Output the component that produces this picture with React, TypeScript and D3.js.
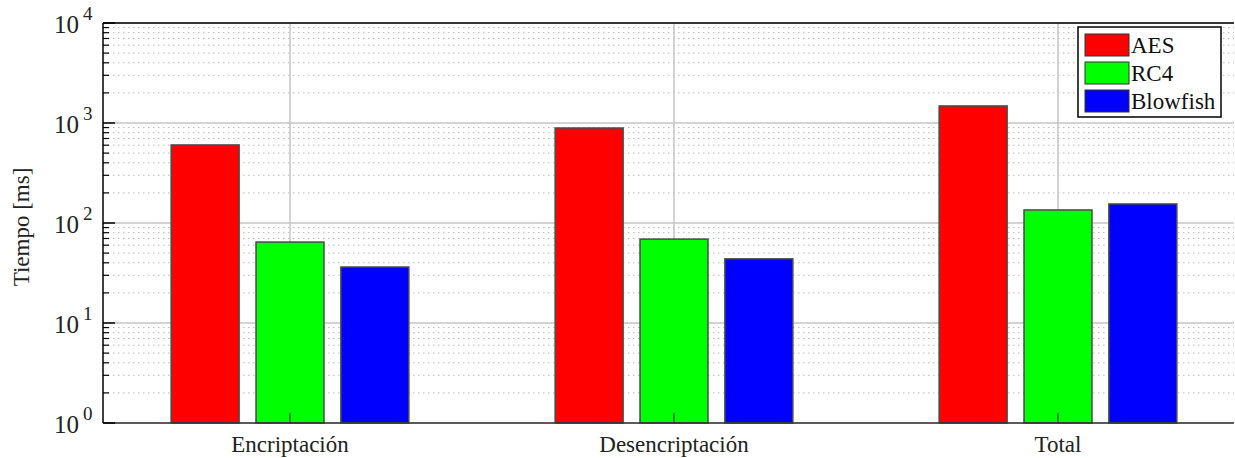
import React, { useRef, useEffect } from 'react';
import * as d3 from 'd3';

const categories = ['Encriptación', 'Desencriptación', 'Total'];
const seriesNames = ['AES', 'RC4', 'Blowfish'];
const seriesColors = ['#ff0000', '#00ff00', '#0000ff'];
const aesValues = [603, 891, 1480];
const rc4Values = [64.5, 69, 135];
const blowfishValues = [36.3, 43.8, 155];
const yTickExponents = [0, 1, 2, 3, 4];

export default function App() {
  const ref = useRef<SVGSVGElement>(null);

  useEffect(() => {
    const svg = d3.select(ref.current);
    svg.selectAll('*').remove();

    const width = 1235;
    const height = 458;
    const left = 103;
    const right = 1234;
    const top = 23;
    const bottom = 423;
    const font = 'Liberation Serif, Times New Roman, Times, serif';

    // category positions (1..3) -> pixels
    const x = d3.scaleLinear().domain([1, 3]).range([290, 1058]);
    const unit = x(2) - x(1);
    const y = d3.scaleLog().domain([1, 10000]).range([bottom, top]);

    const series = [aesValues, rc4Values, blowfishValues];
    const barW = unit * 0.177;
    const offsets = [-0.221, 0, 0.221];

    svg.attr('width', width).attr('height', height).style('font-family', font);
    svg.append('rect').attr('width', width).attr('height', height).attr('fill', '#fff');

    const grid = svg.append('g');
    // minor grid
    for (let e = 0; e < 4; e++) {
      for (let m = 2; m <= 9; m++) {
        const yy = y(m * Math.pow(10, e));
        grid.append('line')
          .attr('x1', left).attr('x2', right)
          .attr('y1', yy).attr('y2', yy)
          .attr('stroke', '#b8b8b8')
          .attr('stroke-width', 1)
          .attr('stroke-dasharray', '1.5,3.5');
      }
    }
    // major grid
    yTickExponents.forEach((e) => {
      const yy = y(Math.pow(10, e));
      grid.append('line')
        .attr('x1', left).attr('x2', right)
        .attr('y1', yy).attr('y2', yy)
        .attr('stroke', '#c4c4c4').attr('stroke-width', 1.5);
    });
    categories.forEach((_, i) => {
      grid.append('line')
        .attr('x1', x(i + 1)).attr('x2', x(i + 1))
        .attr('y1', top).attr('y2', bottom)
        .attr('stroke', '#c4c4c4').attr('stroke-width', 1.5);
    });

    // bars
    series.forEach((vals, s) => {
      svg.append('g').selectAll('rect')
        .data(vals)
        .enter().append('rect')
        .attr('x', (_, i) => x(i + 1) + offsets[s] * unit - barW / 2)
        .attr('y', (d) => y(d))
        .attr('width', barW)
        .attr('height', (d) => bottom - y(d))
        .attr('fill', seriesColors[s])
        .attr('stroke', '#4a4a4a')
        .attr('stroke-width', 1.5);
    });

    // axes
    const ax = svg.append('g');
    ax.append('line').attr('x1', left).attr('x2', left).attr('y1', top).attr('y2', bottom)
      .attr('stroke', '#000').attr('stroke-width', 1.5);
    ax.append('line').attr('x1', left).attr('x2', right).attr('y1', top).attr('y2', top)
      .attr('stroke', '#000').attr('stroke-width', 1.5);
    ax.append('line').attr('x1', left).attr('x2', right).attr('y1', bottom).attr('y2', bottom)
      .attr('stroke', '#333').attr('stroke-width', 1.5);

    // y ticks
    for (let e = 0; e < 4; e++) {
      for (let m = 2; m <= 9; m++) {
        const yy = y(m * Math.pow(10, e));
        ax.append('line').attr('x1', left).attr('x2', left + 6)
          .attr('y1', yy).attr('y2', yy).attr('stroke', '#000').attr('stroke-width', 1.2);
      }
    }
    yTickExponents.forEach((e) => {
      const yy = y(Math.pow(10, e));
      ax.append('line').attr('x1', left).attr('x2', left + 12)
        .attr('y1', yy).attr('y2', yy).attr('stroke', '#000').attr('stroke-width', 1.5);
      ax.append('text')
        .attr('x', 79).attr('y', yy + 10)
        .attr('text-anchor', 'end')
        .style('font-size', '25px')
        .attr('fill', '#222')
        .text('10');
      ax.append('text')
        .attr('x', 83).attr('y', yy - 3)
        .style('font-size', '19px')
        .attr('fill', '#222')
        .text(String(e));
    });

    // x ticks and labels
    categories.forEach((c, i) => {
      ax.append('line').attr('x1', x(i + 1)).attr('x2', x(i + 1))
        .attr('y1', bottom).attr('y2', bottom - 10)
        .attr('stroke', '#333').attr('stroke-width', 1.2);
      ax.append('text')
        .attr('x', x(i + 1)).attr('y', 452)
        .attr('text-anchor', 'middle')
        .style('font-size', '23px')
        .attr('fill', '#222')
        .text(c);
    });

    // y title
    svg.append('text')
      .attr('transform', `translate(29, ${(top + bottom) / 2 + 4}) rotate(-90)`)
      .attr('text-anchor', 'middle')
      .style('font-size', '23px')
      .attr('fill', '#222')
      .text('Tiempo [ms]');

    // legend
    const lg = svg.append('g');
    lg.append('rect').attr('x', 1078).attr('y', 27).attr('width', 143).attr('height', 90)
      .attr('fill', '#fff').attr('stroke', '#000').attr('stroke-width', 1.5);
    seriesNames.forEach((n, i) => {
      const yy = 34 + i * 28;
      lg.append('rect').attr('x', 1085).attr('y', yy).attr('width', 44).attr('height', 22)
        .attr('fill', seriesColors[i]).attr('stroke', '#333').attr('stroke-width', 1);
      lg.append('text').attr('x', 1131).attr('y', yy + 19)
        .style('font-size', '23px').attr('fill', '#111')
        .text(n);
    });
  }, []);

  return <svg ref={ref} style={{ position: 'absolute', left: 0, top: 0 }} />;
}
